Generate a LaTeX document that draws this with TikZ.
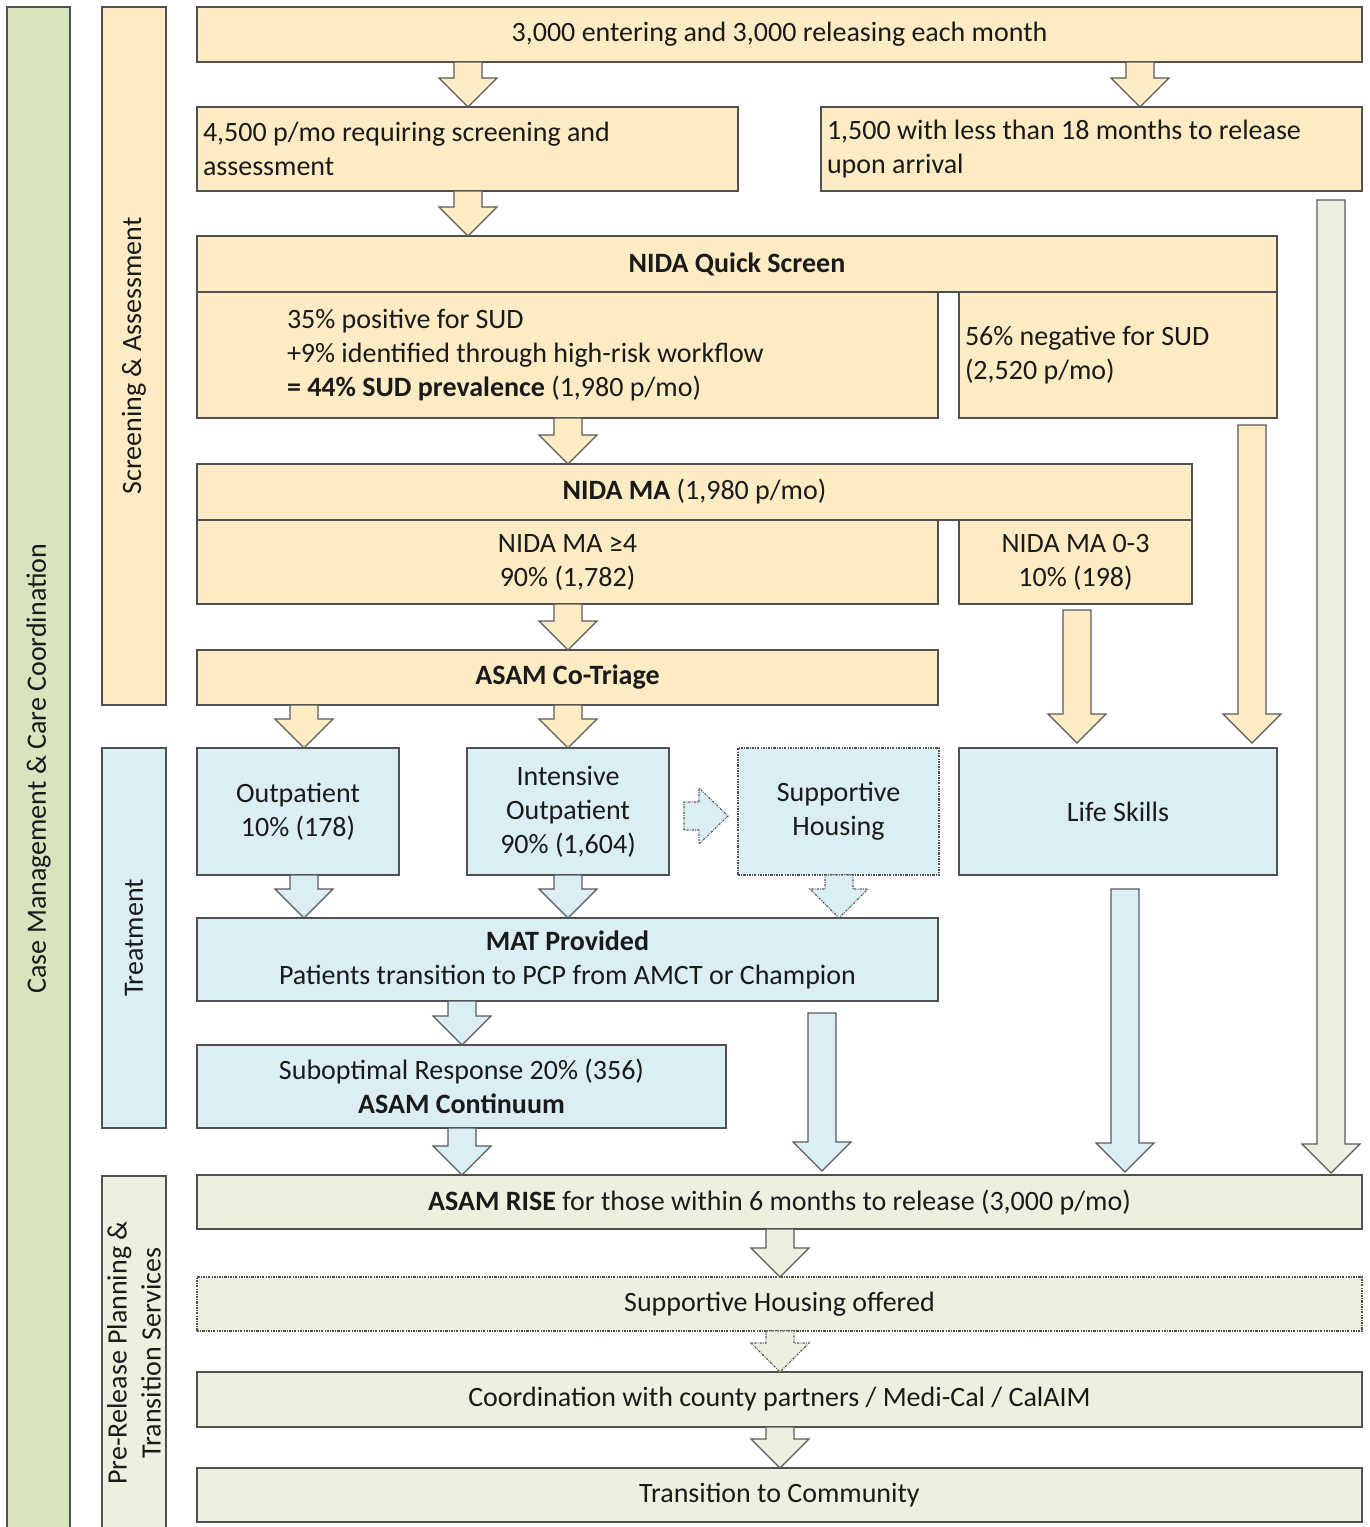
\documentclass[tikz,border=0pt]{standalone}
\usepackage{fontspec}
\setmainfont{Carlito}
\usetikzlibrary{calc}
\definecolor{ylw}{HTML}{FDEBC3}
\definecolor{blu}{HTML}{DAEEF3}
\definecolor{grn}{HTML}{EBF1DE}
\definecolor{grnd}{HTML}{D7E4BD}
\definecolor{bord}{HTML}{505050}
\definecolor{arr}{HTML}{5A5A5A}
\definecolor{txt}{HTML}{1A1A1A}
% down block arrow: [style]{x}{from anchor}{to anchor}{gap at top}{gap at tip}
\newcommand\darrow[6][]{%
  \draw[barrow,#1] let \p1=(#2,0 |- #3), \p2=(#2,0 |- #4) in
   (\x1-14pt,\y1-#5pt) -- (\x1+14pt,\y1-#5pt) -- (\x1+14pt,\y2+#6pt+29pt)
   -- (\x1+29pt,\y2+#6pt+29pt) -- (\x1,\y2+#6pt) -- (\x1-29pt,\y2+#6pt+29pt)
   -- (\x1-14pt,\y2+#6pt+29pt) -- cycle;}
\begin{document}
\begin{tikzpicture}[x=1pt,y=-1pt,
  box/.style={draw=bord,line width=1.3pt,inner sep=0pt,outer sep=0pt,text=txt,
    font=\fontsize{28}{34}\selectfont,align=center},
  lbox/.style={box,align=flush left},
  sect/.style={box,rotate=90},
  barrow/.style={draw=arr,line width=1.2pt,line join=miter},
  dotln/.style={dash pattern=on 2.2pt off 1.2pt on 0.8pt off 1.2pt,line width=1.1pt},
]
\useasboundingbox[fill=white] (0,0) rectangle (1369,1527);

% section bars
\node[sect,fill=grnd,minimum width=1523,minimum height=63] (cm) at (38.5,768.5) {Case Management \& Care Coordination};
\node[sect,fill=ylw,minimum width=698,minimum height=64] (sa) at (134,356) {Screening \& Assessment};
\node[sect,fill=blu,minimum width=380,minimum height=64] (tr) at (134,938) {Treatment};
\node[sect,fill=grn,minimum width=354,minimum height=64] (pr) at (134,1353) {Pre-Release Planning \&\\Transition Services};

% screening & assessment boxes
\node[box,fill=ylw,minimum width=1165,minimum height=55] (top) at (779.5,34.5) {3,000 entering and 3,000 releasing each month};
\node[lbox,fill=ylw,minimum width=541,minimum height=84,inner xsep=6pt,text width=529pt] (scr) at (467.5,149) {4,500 p/mo requiring screening and\\assessment};
\node[lbox,fill=ylw,minimum width=541,minimum height=84,inner xsep=6pt,text width=529pt] (rel) at (1091.5,149) {1,500 with less than 18 months to release\\upon arrival};
\node[box,fill=ylw,minimum width=1080,minimum height=56] (qs) at (737,264) {\textbf{NIDA Quick Screen}};
\node[lbox,fill=ylw,minimum width=741,minimum height=126,inner xsep=90pt,text width=561pt] (pos) at (567.5,355) {35\% positive for SUD\\+9\% identified through high-risk workflow\\\textbf{= 44\% SUD prevalence} (1,980 p/mo)};
\node[lbox,fill=ylw,minimum width=318,minimum height=126,inner xsep=6pt,text width=306pt] (neg) at (1118,355) {56\% negative for SUD\\(2,520 p/mo)};
\node[box,fill=ylw,minimum width=995,minimum height=56] (mah) at (694.5,492) {\textbf{NIDA MA} (1,980 p/mo)};
\node[box,fill=ylw,minimum width=741,minimum height=84] (ma4) at (567.5,562) {NIDA MA ≥4\\90\% (1,782)};
\node[box,fill=ylw,minimum width=233,minimum height=84] (ma03) at (1075.5,562) {NIDA MA 0-3\\10\% (198)};
\node[box,fill=ylw,minimum width=741,minimum height=55] (cot) at (567.5,677.5) {\textbf{ASAM Co-Triage}};

% treatment boxes
\node[box,fill=blu,minimum width=202,minimum height=127] (op) at (298,811.5) {Outpatient\\10\% (178)};
\node[box,fill=blu,minimum width=202,minimum height=127] (iop) at (568,811.5) {Intensive\\Outpatient\\90\% (1,604)};
\node[box,fill=blu,dotln,minimum width=201,minimum height=127] (sh) at (838.5,811.5) {Supportive\\Housing};
\node[box,fill=blu,minimum width=318,minimum height=127] (ls) at (1118,811.5) {Life Skills};
\node[box,fill=blu,minimum width=741,minimum height=83] (mat) at (567.5,959.5) {\textbf{MAT Provided}\\Patients transition to PCP from AMCT or Champion};
\node[box,fill=blu,minimum width=529,minimum height=83] (sub) at (461.5,1086.5) {Suboptimal Response 20\% (356)\\\textbf{ASAM Continuum}};

% pre-release boxes
\node[box,fill=grn,minimum width=1165,minimum height=54] (rise) at (779.5,1202) {\textbf{ASAM RISE} for those within 6 months to release (3,000 p/mo)};
\node[box,fill=grn,dotln,minimum width=1165,minimum height=54] (sho) at (779.5,1304) {Supportive Housing offered};
\node[box,fill=grn,minimum width=1165,minimum height=55] (coord) at (779.5,1399.5) {Coordination with county partners / Medi-Cal / CalAIM};
\node[box,fill=grn,minimum width=1165,minimum height=54] (trans) at (779.5,1495) {Transition to Community};

% yellow arrows
\darrow[fill=ylw]{468}{top.south}{scr.north}{0}{0}
\darrow[fill=ylw]{1140}{top.south}{rel.north}{0}{0}
\darrow[fill=ylw]{468}{scr.south}{qs.north}{0}{0}
\darrow[fill=ylw]{568}{pos.south}{mah.north}{0}{0}
\darrow[fill=ylw]{1252}{neg.south}{ls.north}{7}{5}
\darrow[fill=ylw]{568}{ma4.south}{cot.north}{0}{0}
\darrow[fill=ylw]{1077}{ma03.south}{ls.north}{6}{5}
\darrow[fill=ylw]{304}{cot.south}{op.north}{0}{0}
\darrow[fill=ylw]{568}{cot.south}{iop.north}{0}{0}

% blue arrows
\darrow[fill=blu]{304}{op.south}{mat.north}{0}{0}
\darrow[fill=blu]{568}{iop.south}{mat.north}{0}{0}
\darrow[fill=blu,dotln]{839}{sh.south}{mat.north}{0}{0}
\darrow[fill=blu]{462}{mat.south}{sub.north}{0}{0}
\darrow[fill=blu]{822}{mat.south}{rise.north}{12}{4}
\darrow[fill=blu]{1125}{ls.south}{rise.north}{14}{3}
\darrow[fill=blu]{462}{sub.south}{rise.north}{0}{0}
% right-pointing dotted arrow
\draw[barrow,fill=blu,dotln] let \p1=(iop.east), \p2=(sh.west) in
  (\x1+15pt,\y1-4.5pt-14pt) -- (\x1+15pt,\y1-4.5pt+14pt) -- (\x2-39pt,\y1-4.5pt+14pt)
  -- (\x2-39pt,\y1-4.5pt+28pt) -- (\x2-10pt,\y1-4.5pt) -- (\x2-39pt,\y1-4.5pt-28pt)
  -- (\x2-39pt,\y1-4.5pt-14pt) -- cycle;

% green arrows
\darrow[fill=grn]{1331}{rel.south}{rise.north}{9}{2}
\darrow[fill=grn]{780}{rise.south}{sho.north}{0}{0}
\darrow[fill=grn,dotln]{780}{sho.south}{coord.north}{0}{0}
\darrow[fill=grn]{780}{coord.south}{trans.north}{0}{0}
\end{tikzpicture}
\end{document}
